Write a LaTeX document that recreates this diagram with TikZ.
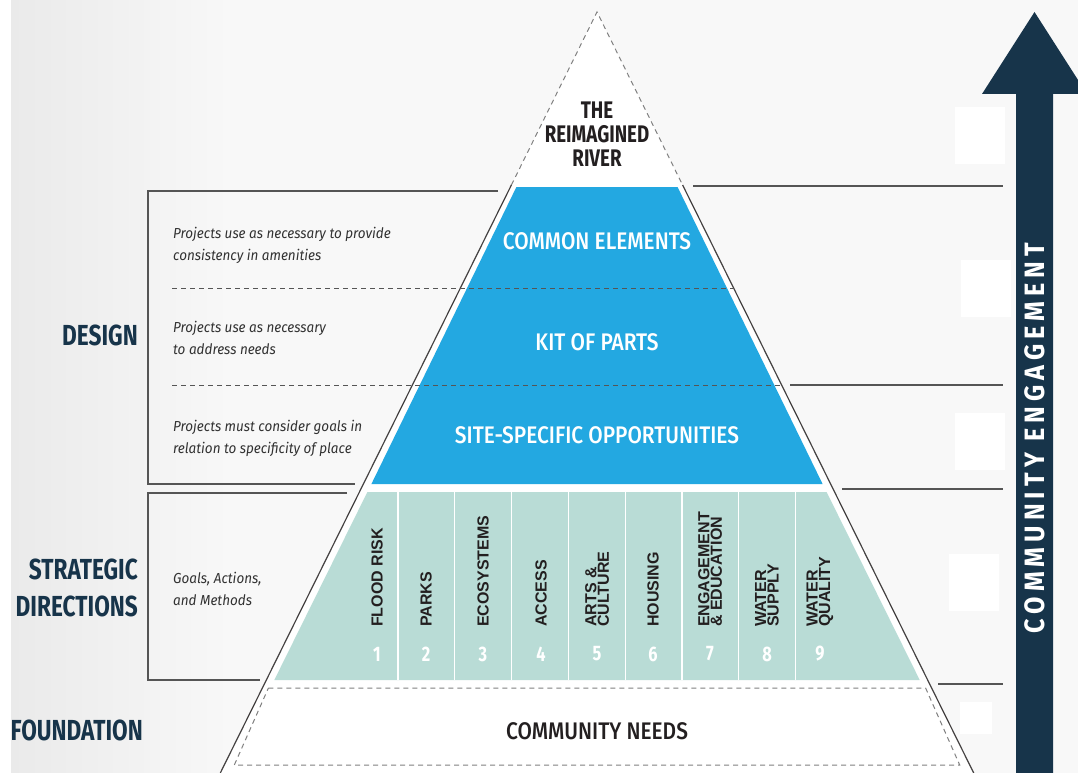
\documentclass[tikz,border=0pt]{standalone}
\usepackage{fontspec}
\setmainfont{Fira Sans}
\newfontfamily\dinfont[FakeStretch=0.78]{Fira Sans}
\newfontfamily\tierfont[FakeStretch=0.87, UprightFont=* Medium]{Fira Sans}
\newfontfamily\engfont[FakeStretch=0.9, LetterSpace=18]{Fira Sans}
\newfontfamily\notefont[FakeStretch=0.93]{Fira Sans}
\newfontfamily\colfont{Liberation Sans}
\usetikzlibrary{positioning}
\definecolor{paper}{RGB}{248,248,248}
\definecolor{shadow}{RGB}{234,234,234}
\definecolor{bluetier}{RGB}{35,168,225}
\definecolor{tealtier}{RGB}{185,220,214}
\definecolor{navy}{RGB}{23,52,74}
\definecolor{inkdark}{RGB}{35,31,32}
\definecolor{notegray}{RGB}{50,50,50}
\definecolor{linegray}{RGB}{85,85,85}
\tikzset{
  heading/.style = {font=\dinfont\bfseries\fontsize{29}{37}\selectfont, text=navy,
                    align=right, anchor=east, inner sep=0},
  sidenote/.style = {font=\notefont\itshape\fontsize{14.5}{22}\selectfont, text=notegray,
                     align=left, anchor=west, inner sep=0},
  tier/.style = {font=\tierfont\fontsize{24}{24}\selectfont, text=white, inner sep=0},
  colhead/.style = {font=\colfont\bfseries\fontsize{16}{12.5}\selectfont, text=inkdark,
                    rotate=90, anchor=west, align=left, inner sep=0},
  colnum/.style = {font=\dinfont\bfseries\fontsize{21}{21}\selectfont, text=white, inner sep=0},
  outline/.style = {draw=inkdark!85, line width=1.2pt},
  boxline/.style = {draw=linegray, line width=1.2pt},
  divider/.style = {draw=linegray, line width=1pt, dash pattern=on 5pt off 4pt}
}
\begin{document}
\begin{tikzpicture}[x=1pt, y=-1pt]
  \useasboundingbox (0,0) rectangle (1078,773);
  % background
  \fill[paper] (0,0) rectangle (1078,773);
  \shade[left color=shadow, right color=paper] (11,0) rectangle (230,773);
  \fill[white] (0,0) rectangle (11,773);

  % pyramid outline
  \fill[white] (597,12) -- (220.3,773) -- (973.7,773) -- cycle;
  \draw[divider, draw=gray] (511.4,185) -- (597,12) -- (682.6,185);
  \draw[outline] (511.4,185) -- (220.3,773);
  \draw[outline] (682.6,185) -- (973.7,773);

  % tiers
  \fill[bluetier] (516.4,187) -- (677.6,187) -- (822.6,484) -- (371.4,484) -- cycle;
  \fill[tealtier] (367.4,492) -- (826.6,492) -- (919.7,680) -- (274.3,680) -- cycle;
  \foreach \i in {0,...,7}
    \draw[white, line width=1.2pt] ({398+56.8*\i},492) -- ++(0,188);
  \draw[divider, draw=gray] (268.4,688) -- (925.6,688) -- (959.7,765) -- (234.3,765) -- cycle;
  \draw[divider] (172,288) -- (733.6,288);
  \draw[divider] (172,385) -- (781.6,385);

  % side boxes and rules
  \draw[boxline] (498,191) -- (148,191) -- (148,484) -- (355,484);
  \draw[boxline] (347,493) -- (148,493) -- (148,680) -- (260,680);
  \foreach \y/\xs in {186/693, 385/790, 489/842, 684/938}
    \draw[boxline] (\xs,\y) -- (1003,\y);
  \foreach \xa/\ya/\xb/\yb in {955/107/1005/164, 961/260/1011/317, 955/413/1005/470,
                               949/554/999/611, 960/702/992/734}
    \fill[white] (\xa,\ya) rectangle (\xb,\yb);

  % engagement arrow
  \fill[navy] (1016,773) -- (1016,94) -- (982,94) -- (1034.5,12) -- (1087,94)
              -- (1053,94) -- (1053,773) -- cycle;
  \node[font=\engfont\bfseries\fontsize{28}{28}\selectfont, text=white, rotate=90,
        inner sep=0] (engage) at (1035,438) {COMMUNITY ENGAGEMENT};

  % texts
  \node[font=\dinfont\bfseries\fontsize{24}{24}\selectfont, text=inkdark, align=center,
        inner sep=0] (river) at (597,134) {THE\\REIMAGINED\\RIVER};
  \node[tier] (common) at (597,241) {COMMON ELEMENTS};
  \node[tier] (kit) at (597,342) {KIT OF PARTS};
  \node[tier] (site) at (597,435) {SITE-SPECIFIC OPPORTUNITIES};
  \node[tier, text=inkdark] (needs) at (597,731) {COMMUNITY NEEDS};

  \node[sidenote] (noteCommon) at (173,245) {Projects use as necessary to provide\\consistency in amenities};
  \node[sidenote] (noteKit) at (173,338) {Projects use as necessary\\to address needs};
  \node[sidenote] (noteSite) at (173,438) {Projects must consider goals in\\relation to specificity of place};
  \node[sidenote] (noteGoals) at (173,589) {Goals, Actions,\\and Methods};

  \node[heading] (design) at (138,335) {DESIGN};
  \node[heading] (strategic) at (138,588) {STRATEGIC\\DIRECTIONS};
  \node[heading] (foundation) at (143,730) {FOUNDATION};

  % strategic directions
  \foreach \x/\lab/\k in {377/{FLOOD RISK}/1, 426/{PARKS}/2, 483/{ECOSYSTEMS}/3,
                          541/{ACCESS}/4, 597/{ARTS \&\\CULTURE}/5, 653/{HOUSING}/6,
                          710/{ENGAGEMENT\\\& EDUCATION}/7, 767/{WATER\\SUPPLY}/8,
                          820/{WATER\\QUALITY}/9}{
    \node[colhead] (c\k) at (\x,627) {\lab};
    \node[colnum] (n\k) at (\x,654) {\k};
  }
\end{tikzpicture}
\end{document}
